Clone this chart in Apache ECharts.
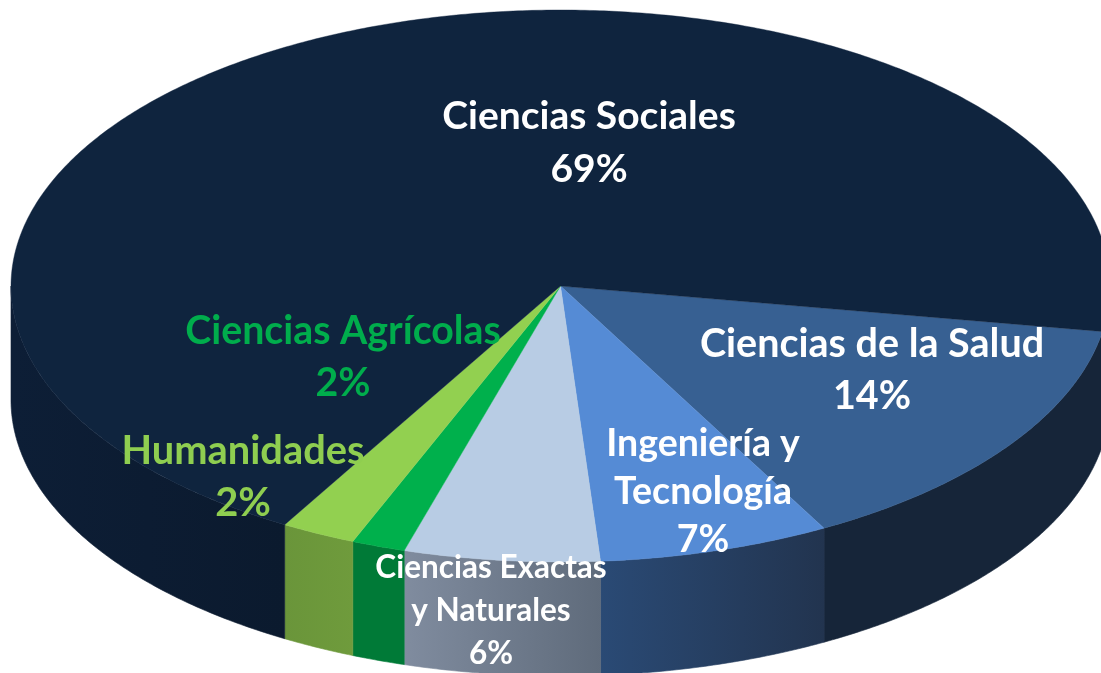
<!DOCTYPE html>
<html>
<head>
<meta charset="utf-8">
<style>html,body{margin:0;padding:0;background:#fff;overflow:hidden}#c{width:1101px;height:673px}</style>
<script src="https://cdn.jsdelivr.net/npm/echarts@6/dist/echarts.min.js"></script>
</head>
<body>
<div id="c"></div>
<script>
// Data (clockwise from the right of the pie)
const categories = ['Ciencias de la Salud', 'Ingeniería y\nTecnología', 'Ciencias Exactas\ny Naturales', 'Ciencias Agrícolas', 'Humanidades', 'Ciencias Sociales'];
const shares = [14.4, 6.8, 5.75, 1.58, 2.2, 69.27];

// Styles
const topColors = ['#376092', '#558bd5', '#b8cce4', '#00b04c', '#92d050', '#0f243e'];
const wallColors = [['#162539', '#162539'], ['#2a4a75', '#22344f'], ['#808c9f', '#5f6b7b'], ['#007a37', '#007a37'], ['#6a953a', '#6f9b3c'], ['#0d1e36', '#0b1a2e']];
const labelColors = ['#fff', '#fff', '#fff', '#00ad4c', '#8fce50', '#fff'];
const labelFontSizes = [39.5, 37.5, 31.5, 39.3, 39.8, 39];
const labelLineHeights = [52, 48, 43, 52, 52, 53];
// Label centres in pixels
const labelCentres = [[872, 370], [703, 492], [491, 611], [343, 357], [243, 477], [589, 143]];

const pie = {cx: 560.5, cy: 286, rx: 549.5, ry: 276, depth: 114, startDeg: 9.5};

const rim = (deg, dy) => [
  pie.cx + pie.rx * Math.cos(deg * Math.PI / 180),
  pie.cy + pie.ry * Math.sin(deg * Math.PI / 180) + dy
];
const sweep = (a, b, dy) => {
  const pts = [];
  const n = Math.max(2, Math.ceil((b - a) * 2));
  for (let i = 0; i <= n; i++) pts.push(rim(a + (b - a) * i / n, dy));
  return pts;
};
const starts = [];
shares.reduce((acc, v, i) => { starts[i] = acc; return acc + v * 3.6; }, pie.startDeg);

const seriesData = categories.map((name, i) => ({name, value: shares[i]}));

function renderSlice(params, api) {
  const i = params.dataIndex;
  const a = starts[i], b = a + api.value(0) * 3.6;
  const children = [];
  // front wall: only the part of the rim facing the viewer
  const wa = Math.max(a, 0), wb = Math.min(b, 180);
  if (wb > wa) {
    const pts = sweep(wa, wb, 0).concat(sweep(wa, wb, pie.depth).reverse());
    const fill = {type: 'linear', x: 0, y: 0, x2: 1, y2: 0, colorStops: [
      {offset: 0, color: wallColors[i][0]}, {offset: 1, color: wallColors[i][1]}]};
    children.push({
      type: 'polygon', shape: {points: pts},
      style: {fill: fill, stroke: fill, lineWidth: 0.6}
    });
  }
  children.push({
    type: 'polygon',
    shape: {points: [[pie.cx, pie.cy]].concat(sweep(a, b, 0))},
    style: {fill: topColors[i], stroke: topColors[i], lineWidth: 0.4}
  });
  return {type: 'group', children};
}

function renderLabel(params, api) {
  const i = params.dataIndex;
  return {
    type: 'text',
    x: labelCentres[i][0], y: labelCentres[i][1],
    style: {
      text: categories[i] + '\n' + Math.round(api.value(0)) + '%',
      fill: labelColors[i],
      font: 'bold ' + labelFontSizes[i] + 'px Lato',
      lineHeight: labelLineHeights[i],
      align: 'center', verticalAlign: 'middle'
    }
  };
}

const chart = echarts.init(document.getElementById('c'), null, {renderer: 'canvas'});
chart.setOption({
  animation: false,
  backgroundColor: '#ffffff',
  series: [
    {type: 'custom', coordinateSystem: 'none', silent: true, data: seriesData, encode: {value: 0}, renderItem: renderSlice, z: 1},
    {type: 'custom', coordinateSystem: 'none', silent: true, data: seriesData, encode: {value: 0}, renderItem: renderLabel, z: 2}
  ]
});
</script>
</body>
</html>
